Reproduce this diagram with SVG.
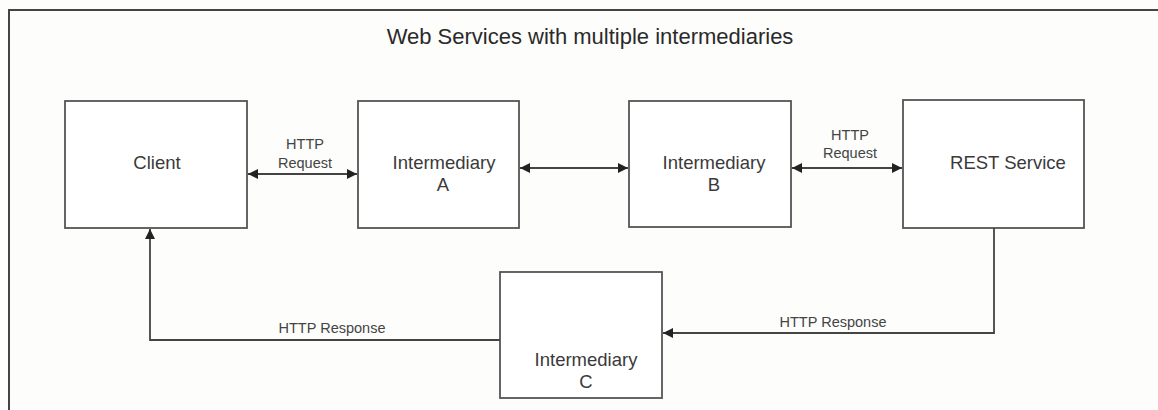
<svg xmlns="http://www.w3.org/2000/svg" width="1158" height="410" viewBox="0 0 1158 410">
<defs>
<style>
.box{fill:#fff;stroke:#555;stroke-width:1.8}
.lbl{font-family:"Liberation Sans",Arial,sans-serif;font-size:18.5px;fill:#3a3a3a;text-anchor:middle}
.sm{font-family:"Liberation Sans",Arial,sans-serif;font-size:14.5px;fill:#444;text-anchor:middle}
.ttl{font-family:"Liberation Sans",Arial,sans-serif;font-size:22px;fill:#2a2a2a;text-anchor:middle}
.con{fill:none;stroke:#444;stroke-width:1.8}
</style>
<marker id="ah" viewBox="0 0 10 10" refX="10" refY="5" markerWidth="10" markerHeight="10" markerUnits="userSpaceOnUse" orient="auto-start-reverse">
<path d="M0,0 L10,5 L0,10 Z" fill="#222"/>
</marker>
</defs>
<rect width="1158" height="410" fill="#fdfdfc"/>
<path d="M9,410 V10 H1158" fill="none" stroke="#444" stroke-width="2"/>
<text class="ttl" x="590" y="44">Web Services with multiple intermediaries</text>
<g id="client"><rect class="box" x="65" y="101" width="182" height="127"/><text class="lbl" x="157" y="169">Client</text></g>
<g id="intA"><rect class="box" x="358" y="101" width="161" height="127"/><text class="lbl" x="444" y="169">Intermediary</text><text class="lbl" x="443" y="191">A</text></g>
<g id="intB"><rect class="box" x="629" y="101" width="162" height="126"/><text class="lbl" x="714" y="169">Intermediary</text><text class="lbl" x="714" y="191">B</text></g>
<g id="rest"><rect class="box" x="903" y="100" width="181" height="128"/><text class="lbl" x="1008" y="169">REST Service</text></g>
<g id="intC"><rect class="box" x="500" y="272" width="162" height="126"/><text class="lbl" x="586" y="366">Intermediary</text><text class="lbl" x="586" y="388">C</text></g>
<g id="connectors">
<path class="con" d="M248,174 H357" marker-start="url(#ah)" marker-end="url(#ah)"/>
<path class="con" d="M520,168 H628" marker-start="url(#ah)" marker-end="url(#ah)"/>
<path class="con" d="M792,168 H902" marker-start="url(#ah)" marker-end="url(#ah)"/>
<path class="con" d="M994,228 V333 H663" marker-end="url(#ah)"/>
<path class="con" d="M500,340 H150 V229" marker-end="url(#ah)"/>
<text class="sm" x="305" y="149">HTTP</text><text class="sm" x="305" y="168">Request</text>
<text class="sm" x="850" y="140">HTTP</text><text class="sm" x="850" y="158">Request</text>
<text class="sm" x="332" y="333">HTTP Response</text>
<text class="sm" x="833" y="327">HTTP Response</text>
</g>
</svg>
